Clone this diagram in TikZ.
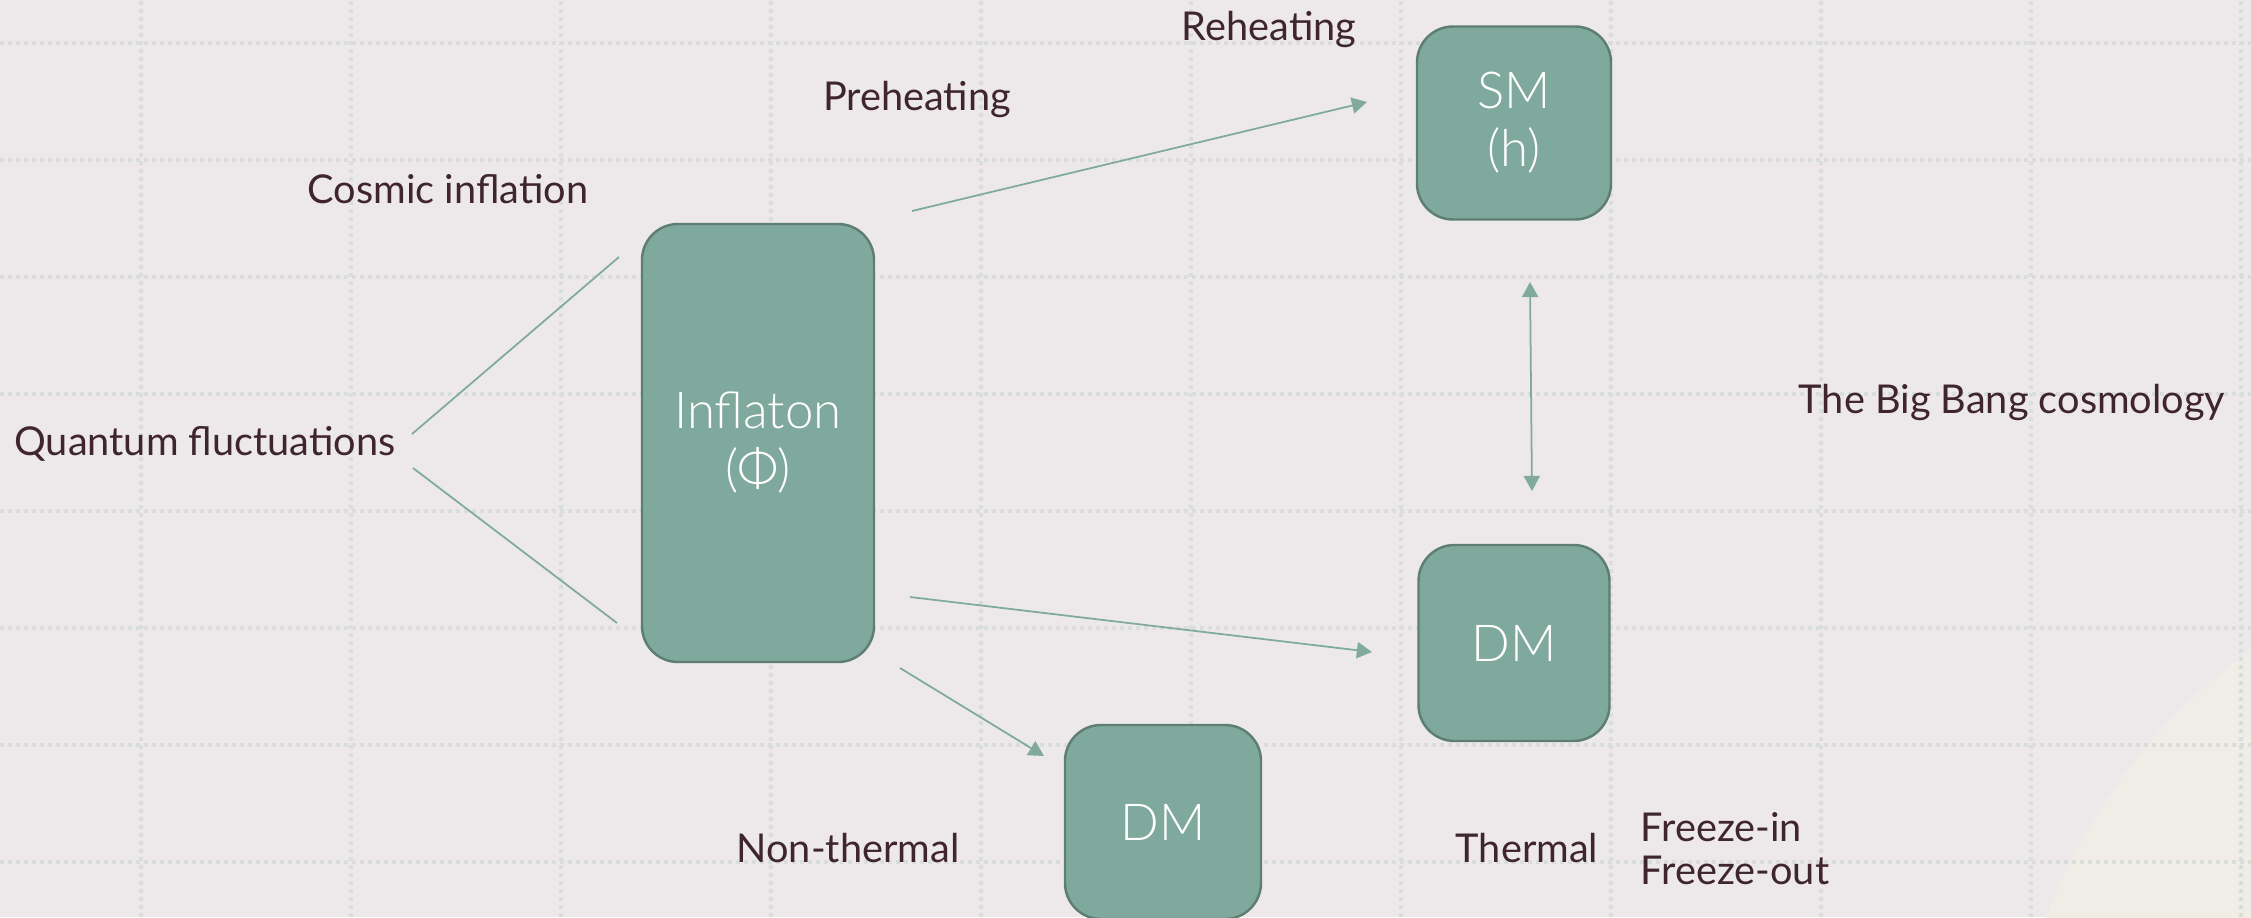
\documentclass[tikz,border=0pt]{standalone}
\usepackage{fontspec}
\setmainfont{Lato}
\IfFontExistsTF{Lato Light}{\newfontfamily\boxfont{Lato Light}}{\newfontfamily\boxfont{Lato}}
\usetikzlibrary{arrows.meta}
\definecolor{bgcol}{HTML}{EDE9EA}
\definecolor{gridcol}{HTML}{D9DEDB}
\definecolor{creamcol}{HTML}{EFEDE6}
\definecolor{boxfill}{HTML}{80A99D}
\definecolor{boxdraw}{HTML}{5F7E73}
\definecolor{linkcol}{HTML}{7FAA9C}
\definecolor{textcol}{HTML}{3F252D}

\begin{document}
\begin{tikzpicture}[
    gridline/.style={gridcol, line width=0.04cm, dash pattern=on 0.04cm off 0.04cm},
    stage/.style={draw=boxdraw, fill=boxfill, line width=0.7pt, rounded corners=0.36cm,
        text=white, align=center, font=\boxfont\fontsize{14.5}{16.5}\selectfont},
    label/.style={text=textcol, align=left, inner sep=0pt, font=\fontsize{11.3}{12.2}\selectfont},
    link/.style={linkcol, line width=0.5pt},
    tip/.tip={Triangle[length=4.3pt,width=4.6pt]},
    arrow/.style={link, -tip}
]
    \useasboundingbox (0,0) rectangle (22.51,9.17);
    \fill[bgcol] (0,0) rectangle (22.51,9.17);
    \begin{scope}
        \clip (0,0) rectangle (22.51,9.17);
        \fill[creamcol] (25.93,-2.06) circle (5.84);
    \end{scope}
    \foreach \i in {0,...,10}
        \draw[gridline] ({1.41+2.1*\i},0) -- ++(0,9.17);
    \foreach \j in {0,...,7}
        \draw[gridline] (0,{8.74-1.17*\j}) -- ++(22.51,0);

    % boxes
    \node[stage, minimum width=2.32cm, minimum height=4.38cm] (infl) at (7.58,4.74) {Inflaton\\(Φ)};
    \node[stage, minimum width=1.94cm, minimum height=1.93cm] (sm) at (15.14,7.94) {SM\\(h)};
    \node[stage, minimum width=1.91cm, minimum height=1.96cm] (dmth) at (15.14,2.74) {DM};
    \node[stage, minimum width=1.96cm, minimum height=1.94cm] (dmnon) at (11.63,0.95) {DM};

    % labels
    \node[label] (reheat) at (12.69,8.88) {Reheating};
    \node[label] (preheat) at (9.17,8.18) {Preheating};
    \node[label] (cosmic) at (4.48,7.28) {Cosmic inflation};
    \node[label] (quantum) at (2.05,4.73) {Quantum fluctuations};
    \node[label] (bigbang) at (20.12,5.15) {The Big Bang cosmology};
    \node[label] (nonth) at (8.48,0.69) {Non-thermal};
    \node[label] (therm) at (15.27,0.69) {Thermal};
    \node[label, anchor=west] (freeze) at (16.40,0.685) {Freeze-in\\Freeze-out};

    % free ends
    \coordinate (qa) at (4.12,4.83);
    \coordinate (qb) at (4.13,4.49);
    \coordinate (ia) at (6.19,6.60);
    \coordinate (ib) at (6.17,2.94);
    \coordinate (pa) at (9.12,7.06);
    \coordinate (pb) at (13.67,8.15);
    \coordinate (ta) at (9.10,3.20);
    \coordinate (tb) at (13.72,2.65);
    \coordinate (na) at (9.00,2.49);
    \coordinate (nb) at (10.44,1.61);
    \coordinate (sa) at (15.30,6.35);
    \coordinate (sb) at (15.32,4.26);

    \draw[link] (qa) -- (ia);
    \draw[link] (qb) -- (ib);
    \draw[arrow] (pa) -- (pb);
    \draw[arrow] (ta) -- (tb);
    \draw[arrow] (na) -- (nb);
    \draw[link, tip-tip] (sa) -- (sb);
\end{tikzpicture}
\end{document}
